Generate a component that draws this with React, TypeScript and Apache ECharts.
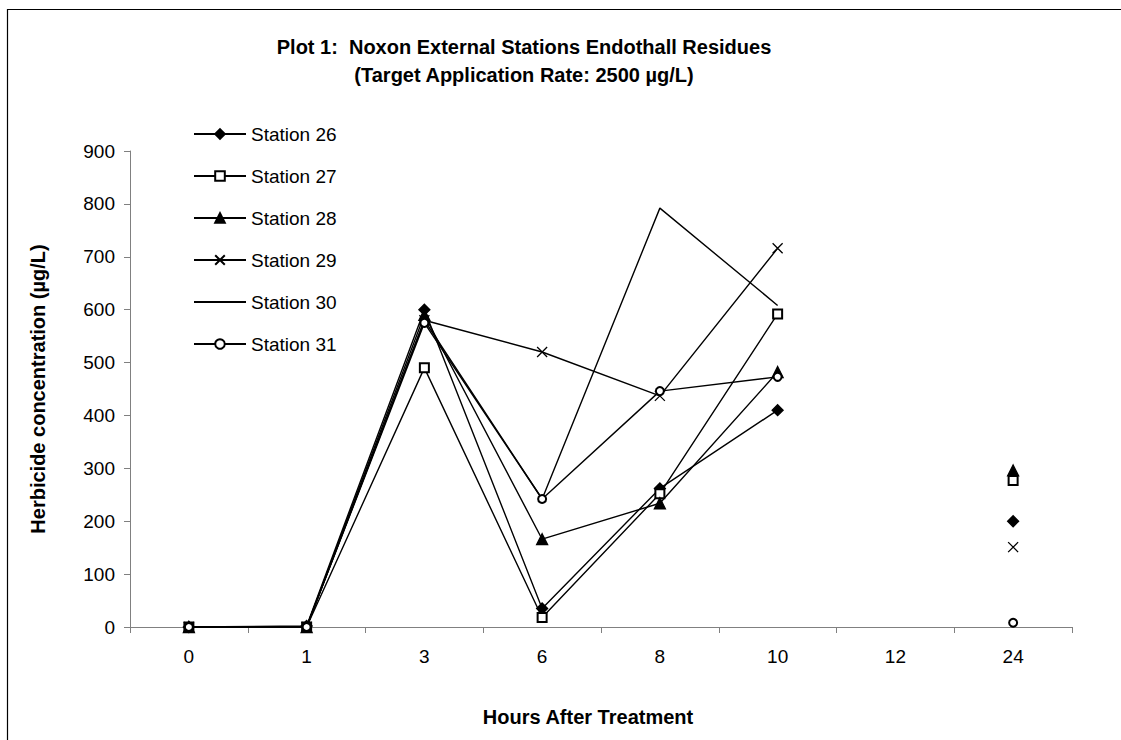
import React, { useEffect, useRef } from "react";
import * as echarts from "echarts";

const hours = ["0", "1", "3", "6", "8", "10", "12", "24"];
const station26 = [0, 2, 600, 35, 262, 410, null, 200];
const station27 = [0, 0, 490, 18, 252, 592, null, 277];
const station28 = [0, 0, 590, 166, 234, 482, null, 296];
const station29 = [0, 0, 580, 520, 437, 716, null, 151];
const station30 = [0, 0, 580, 242, 792, 608, null, null];
const station31 = [0, 0, 575, 242, 446, 473, null, 8];
const yTicks = { min: 0, max: 900, interval: 100 };

const FONT = "'Liberation Sans', Arial, sans-serif";
const X_PATH = "path://M0,0L10,10M10,0L0,10";

export default function App() {
  const ref = useRef<HTMLDivElement>(null);
  useEffect(() => {
    if (!ref.current) return;
    const chart = echarts.init(ref.current, null, { renderer: "svg" });
    const base = (name: string, data: (number | null)[], symbol: string, size: number, itemStyle: any = {}, extra: any = {}) => ({
      name,
      type: "line",
      data,
      symbol,
      symbolSize: size,
      showAllSymbol: true,
      connectNulls: false,
      lineStyle: { color: "#000", width: 1.4 },
      itemStyle: { color: "#000", borderColor: "#000", borderWidth: 1.3, ...itemStyle },
      emphasis: { disabled: true },
      ...extra,
    });
    chart.setOption({
      animation: false,
      backgroundColor: "#fff",
      graphic: [
        {
          type: "rect",
          shape: { x: 7.5, y: 9.5, width: 1200, height: 800 },
          style: { fill: "none", stroke: "#000", lineWidth: 1.2 },
          silent: true,
        },
        {
          type: "text",
          x: 524,
          y: 61,
          style: {
            text: "Plot 1:  Noxon External Stations Endothall Residues\n(Target Application Rate: 2500 µg/L)",
            fontFamily: FONT,
            fontSize: 20,
            fontWeight: "bold",
            fill: "#000",
            align: "center",
            verticalAlign: "middle",
            lineHeight: 28,
          },
        },
      ],
      legend: {
        orient: "vertical",
        left: 193,
        top: 123,
        padding: 0,
        itemWidth: 52,
        itemHeight: 12,
        itemGap: 20,
        textStyle: { fontFamily: FONT, fontSize: 19, color: "#000", lineHeight: 22 },
        data: [
          "Station 26",
          "Station 27",
          "Station 28",
          "Station 29",
          { name: "Station 30", itemStyle: { opacity: 0 } },
          "Station 31",
        ],
      },
      grid: { left: 130, right: 49, top: 151, bottom: 113 },
      xAxis: {
        type: "category",
        data: hours,
        boundaryGap: true,
        name: "Hours After Treatment",
        nameLocation: "middle",
        nameGap: 80,
        nameTextStyle: { fontFamily: FONT, fontSize: 20, fontWeight: "bold", color: "#000", padding: [0, 26, 0, 0] },
        axisLine: { lineStyle: { color: "#808080", width: 1 } },
        axisTick: { show: true, length: 6, alignWithLabel: false, lineStyle: { color: "#808080" } },
        axisLabel: { fontFamily: FONT, fontSize: 19, color: "#000", margin: 20 },
        splitLine: { show: false },
      },
      yAxis: {
        type: "value",
        ...yTicks,
        name: "Herbicide concentration (µg/L)",
        nameLocation: "middle",
        nameGap: 82,
        nameTextStyle: { fontFamily: FONT, fontSize: 20, fontWeight: "bold", color: "#000" },
        axisLine: { show: true, lineStyle: { color: "#808080", width: 1 } },
        axisTick: { show: true, length: 6, lineStyle: { color: "#808080" } },
        axisLabel: { fontFamily: FONT, fontSize: 19, color: "#000", margin: 15 },
        splitLine: { show: false },
      },
      series: [
        base("Station 26", station26, "diamond", 11),
        base("Station 27", station27, "emptyRect", 9),
        base("Station 28", station28, "triangle", 11),
        base("Station 29", station29, X_PATH, 10, { color: "none" }),
        base("Station 30", station30, "circle", 6, { opacity: 0 }, { showSymbol: false }),
        base("Station 31", station31, "emptyCircle", 8),
      ],
    });
    return () => chart.dispose();
  }, []);
  return (
    <div
      ref={ref}
      style={{ position: "absolute", left: 0, top: 0, width: 1121, height: 740 }}
    />
  );
}
